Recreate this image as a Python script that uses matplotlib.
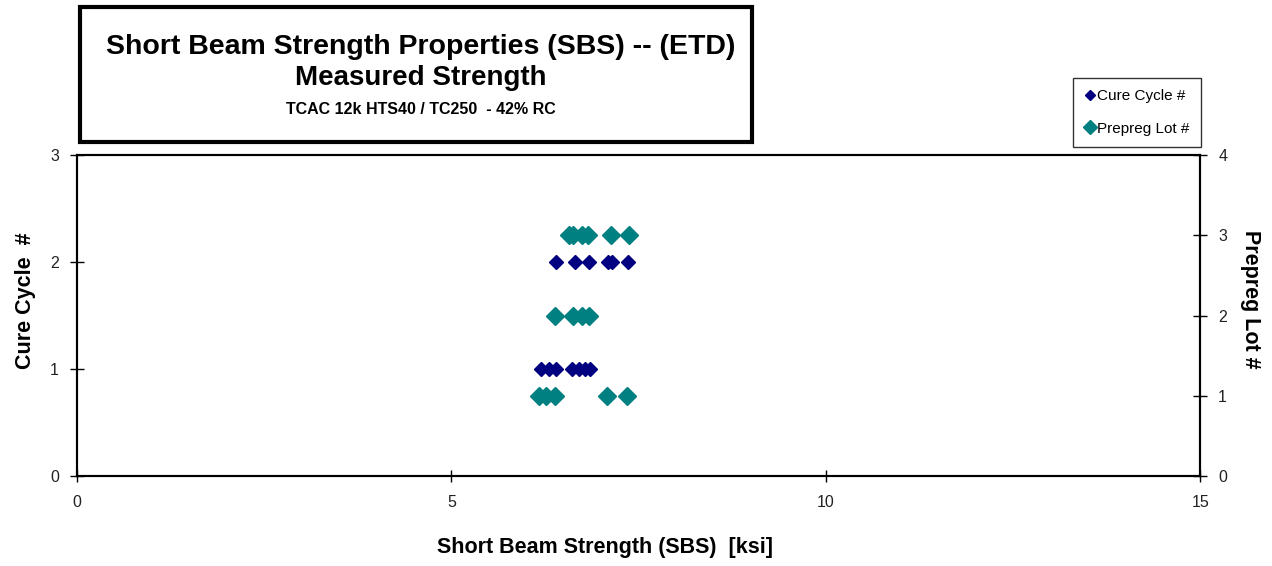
import matplotlib.pyplot as plt
from matplotlib.patches import Rectangle

plt.rcParams['font.family'] = ['Liberation Sans', 'DejaVu Sans']

# Cure Cycle # (left axis)
cure_x = [6.2, 6.3, 6.4, 6.61, 6.7, 6.78, 6.85,
          6.4, 6.65, 6.84, 7.09, 7.14, 7.36]
cure_y = [1, 1, 1, 1, 1, 1, 1,
          2, 2, 2, 2, 2, 2]

# Prepreg Lot # (right axis)
lot_x = [6.17, 6.27, 6.38, 7.08, 7.35,
         6.38, 6.63, 6.74, 6.84,
         6.57, 6.63, 6.75, 6.83, 7.13, 7.37]
lot_y = [1, 1, 1, 1, 1,
         2, 2, 2, 2,
         3, 3, 3, 3, 3, 3]

fig = plt.figure(figsize=(12.72, 5.66), dpi=100)
ax = fig.add_axes([0.0605, 0.159, 0.883, 0.567])
ax2 = ax.twinx()

l1, = ax.plot(cure_x, cure_y, 'D', color='#000080', markersize=7, linestyle='none', label='Cure Cycle #')
l2, = ax2.plot(lot_x, lot_y, 'D', color='#008080', markersize=9, linestyle='none', label='Prepreg Lot #')

ax.set_xlim(0, 15)
ax.set_ylim(0, 3)
ax2.set_ylim(0, 4)
ax.set_xticks([0, 5, 10, 15])
ax.set_yticks([0, 1, 2, 3])
ax2.set_yticks([0, 1, 2, 3, 4])

for a in (ax, ax2):
    for s in a.spines.values():
        s.set_linewidth(1.5)
ax.tick_params(axis='x', direction='inout', length=8, width=1, labelsize=11.5, pad=10, labelcolor='#222222')
ax.tick_params(axis='y', direction='inout', length=10, width=1, labelsize=11.5, pad=8, labelcolor='#222222')
ax2.tick_params(axis='y', direction='inout', length=10, width=1, labelsize=11.5, pad=8, labelcolor='#222222')

fig.text(0.02, 0.468, 'Cure Cycle  #', rotation=90, ha='center', va='center',
         fontsize=15.5, fontweight='bold')
fig.text(0.983, 0.472, 'Prepreg Lot #', rotation=-90, ha='center', va='center',
         fontsize=15.5, fontweight='bold')
fig.text(0.476, 0.032, 'Short Beam Strength (SBS)  [ksi]', ha='center', va='center',
         fontsize=15.5, fontweight='bold')

# title box
fig.patches.append(Rectangle((80 / 1272, 1 - 142 / 566), 672 / 1272, 135 / 566,
                             transform=fig.transFigure, fill=False,
                             edgecolor='black', linewidth=3))
fig.text(0.331, 1 - 47 / 566, 'Short Beam Strength Properties (SBS) -- (ETD)',
         ha='center', va='center', fontsize=20.5, fontweight='bold')
fig.text(0.331, 1 - 78 / 566, 'Measured Strength',
         ha='center', va='center', fontsize=20, fontweight='bold')
fig.text(0.331, 1 - 109 / 566, 'TCAC 12k HTS40 / TC250  - 42% RC',
         ha='center', va='center', fontsize=11.5, fontweight='bold')

leg = fig.legend(handles=[l1, l2], loc='upper right', bbox_to_anchor=(1201 / 1272, 1 - 78 / 566),
                 borderaxespad=0, fontsize=11, frameon=True, fancybox=False, handlelength=0.6,
                 handletextpad=0.2, borderpad=0.75, labelspacing=1.2, markerscale=0.8)
leg.get_frame().set_edgecolor('black')
leg.get_frame().set_linewidth(1)

fig.savefig('out.png', dpi=100)
